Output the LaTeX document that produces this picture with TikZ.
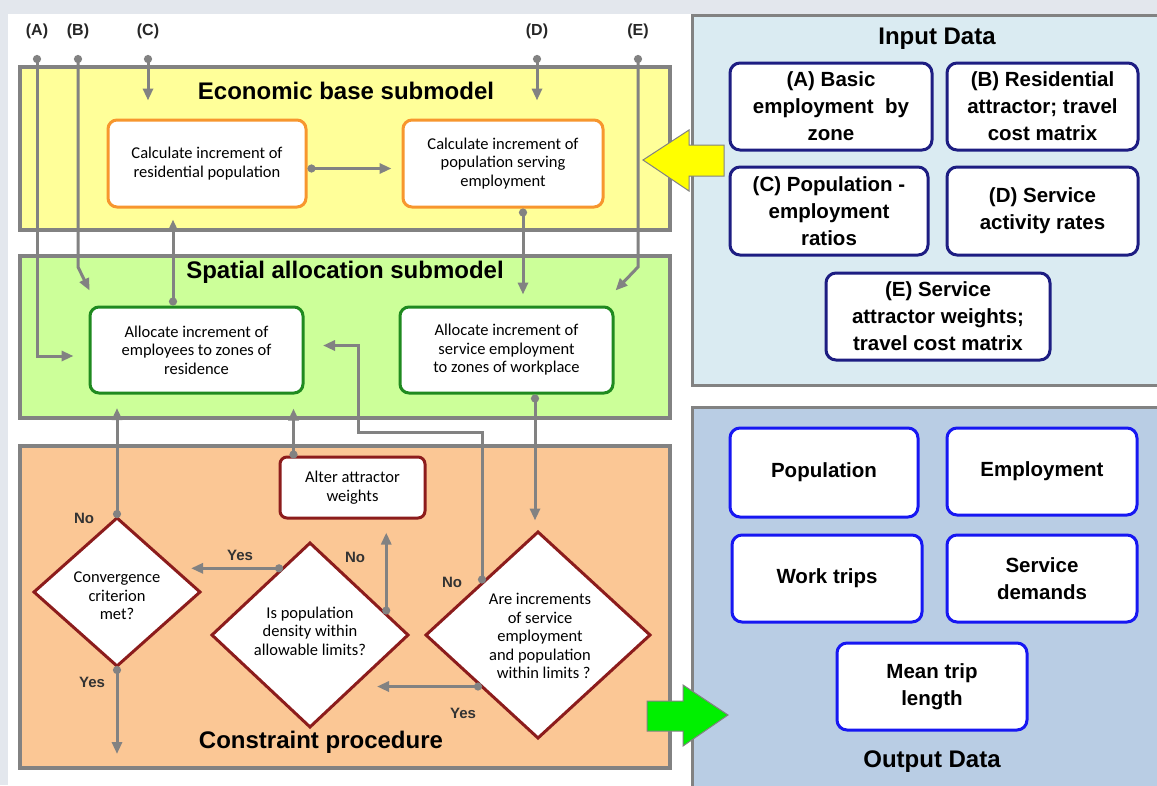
\documentclass[tikz,border=0pt]{standalone}
\usepackage{fontspec}
\setmainfont{Liberation Sans}
\newfontfamily\boxfont{Carlito}
\usetikzlibrary{positioning,shapes.geometric,arrows.meta}
\definecolor{PageGray}{HTML}{E3E7ED}
\definecolor{FrameGray}{HTML}{828282}
\definecolor{EconFill}{HTML}{FFFF99}
\definecolor{SpatFill}{HTML}{CCFF99}
\definecolor{ConsFill}{HTML}{FBC795}
\definecolor{EconLine}{HTML}{F7962E}
\definecolor{SpatLine}{HTML}{1F8A1F}
\definecolor{ConsLine}{HTML}{8C1C1C}
\definecolor{InFill}{HTML}{DAEBF2}
\definecolor{OutFill}{HTML}{B9CDE4}
\definecolor{InLine}{HTML}{1D1D82}
\definecolor{OutLine}{HTML}{1717F2}
\definecolor{InArrow}{HTML}{FFFF00}
\definecolor{OutArrow}{HTML}{00F000}

\begin{document}
\begin{tikzpicture}[x=1pt,y=-1pt,>={Triangle[length=12pt,width=10pt]}]
  \tikzstyle{panel}=[draw=FrameGray,line width=4pt]
  \tikzstyle{paneltitle}=[font=\bfseries\fontsize{24}{27}\selectfont,inner sep=0pt]
  \tikzstyle{stepbox}=[fill=white,line width=3pt,rounded corners=9pt,align=center,
    inner sep=2pt,font=\boxfont\fontsize{16.5}{18.5}\selectfont]
  \tikzstyle{choice}=[diamond,draw=ConsLine,fill=white,line width=3pt,inner sep=0pt,outer sep=0pt]
  \tikzstyle{choicetext}=[align=center,inner sep=0pt,font=\boxfont\fontsize{16.5}{18.5}\selectfont]
  \tikzstyle{databox}=[fill=white,line width=3pt,rounded corners=10pt,align=center,
    inner sep=2pt,font=\bfseries\fontsize{20.5}{27}\selectfont]
  \tikzstyle{feed}=[draw=FrameGray,line width=3pt,{Circle[length=8pt]}->]
  \tikzstyle{answer}=[font=\bfseries\fontsize{15}{17}\selectfont,text=black!80,inner sep=0pt]
  \tikzstyle{toplab}=[font=\bfseries\fontsize{16}{18}\selectfont,text=black!85,inner sep=0pt]

  \useasboundingbox (0,0) rectangle (1157,785);
  \fill[PageGray] (0,0) rectangle (1157,785);
  \fill[white] (8,14) rectangle (1157,785);

  % submodels on the left
  \draw[panel,fill=EconFill] (20,67) rectangle (670,230);
  \draw[panel,fill=SpatFill] (20,256) rectangle (670,418);
  \draw[panel,fill=ConsFill] (20,446) rectangle (670,768);
  \node[paneltitle] (econ) at (346,91) {Economic base submodel};
  \node[paneltitle] (spat) at (345,272) {Spatial allocation submodel};
  \node[paneltitle] (cons) at (321,742) {Constraint procedure};

  % data panels on the right
  \draw[panel,line width=3pt,fill=InFill] (692,15) rectangle (1165,385);
  \draw[panel,line width=3pt,fill=OutFill] (692,407) rectangle (1165,795);
  \node[paneltitle] (indata) at (937,39) {Input Data};
  \node[paneltitle] (outdata) at (932,762) {Output Data};

  % big arrows between panels
  \draw[draw=FrameGray,fill=InArrow,line width=1pt] (643,160) -- (689,130) -- (689,145)
    -- (724,145) -- (724,176) -- (689,176) -- (689,191) -- cycle;
  \draw[draw=FrameGray,fill=OutArrow,line width=1pt] (728,715) -- (683,685) -- (683,701)
    -- (647,701) -- (647,731) -- (683,731) -- (683,746) -- cycle;

  % steps
  \node[stepbox,draw=EconLine,minimum width=198,minimum height=87] (a) at (207,163.5)
    {Calculate increment of\\residential population};
  \node[stepbox,draw=EconLine,minimum width=200,minimum height=87] (b) at (503,163.5)
    {Calculate increment of\\population serving\\employment};
  \node[stepbox,draw=SpatLine,minimum width=213,minimum height=86] (c) at (196.5,350)
    {Allocate increment of\\employees to zones of\\residence};
  \node[stepbox,draw=SpatLine,minimum width=213,minimum height=86] (d) at (506.5,350)
    {Allocate increment of\\service employment\\to zones of workplace};
  \node[stepbox,draw=ConsLine,rounded corners=7pt,minimum width=145,minimum height=61] (e) at (352.5,487.5)
    {Alter attractor\\weights};

  % decisions
  \node[choice,minimum width=166,minimum height=148] (f) at (117,592) {};
  \node[choice,minimum width=196,minimum height=184] (g) at (310,635) {};
  \node[choice,minimum width=224,minimum height=206] (h) at (538,635) {};
  \node[choicetext] (ft) at (117,596) {Convergence\\criterion\\met?};
  \node[choicetext] (gt) at (310,631) {Is population\\density within\\allowable limits?};
  \node[choicetext] (ht) at (540,636) {Are increments\\of service\\employment\\and population\\\ \ within limits ?};

  % input data
  \node[databox,draw=InLine,minimum width=202,minimum height=87] (ia) at (831,106.5)
    {(A) Basic\\employment\ \ by\\zone};
  \node[databox,draw=InLine,minimum width=191,minimum height=87] (ib) at (1042.5,106.5)
    {(B) Residential\\attractor; travel\\cost matrix};
  \node[databox,draw=InLine,minimum width=198,minimum height=88] (ic) at (829,211)
    {(C) Population -\\employment\\ratios};
  \node[databox,draw=InLine,minimum width=191,minimum height=88] (id) at (1042.5,211)
    {(D) Service\\activity rates};
  \node[databox,draw=InLine,minimum width=224,minimum height=87] (ie) at (938,316.5)
    {(E) Service\\attractor weights;\\travel cost matrix};

  % output data
  \node[databox,draw=OutLine,minimum width=188,minimum height=89] (oa) at (824,472.5) {Population};
  \node[databox,draw=OutLine,minimum width=190,minimum height=87] (ob) at (1042,471.5) {Employment};
  \node[databox,draw=OutLine,minimum width=190,minimum height=87] (oc) at (827,578.5) {Work trips};
  \node[databox,draw=OutLine,minimum width=190,minimum height=87] (od) at (1042,578.5) {Service\\demands};
  \node[databox,draw=OutLine,minimum width=190,minimum height=87] (oe) at (932,686.5) {Mean trip\\length};

  % feeds from the input data
  \foreach \lab/\xx in {A/37,B/78,C/148,D/537,E/638} {
    \node[toplab] (l\lab) at (\xx,31) {(\lab)};
    \coordinate (t\lab) at (\xx,55);
  }
  \draw[feed,shorten >=15pt] (tA) |- ([yshift=-6pt]c.west);
  \draw[feed] (tB) -- ++(0,212) -- ([shift={(1,-15)}]c.north west);
  \draw[feed,shorten >=18pt] (tC) -- (tC |- a.north);
  \draw[feed,shorten >=18pt] (tD) -- (tD |- b.north);
  \draw[feed] (tE) -- ++(0,212) -- ([shift={(1,-15)}]d.north east);

  % flow inside the submodels
  \draw[feed,shorten >=10pt] ([yshift=-5pt]a.east) -- ([yshift=-5pt]b.west);
  \draw[feed] ([xshift=20pt]b.south) -- ++(0,86);
  \draw[feed] ([xshift=-23.5pt]c.north) -- ++(0,-86);
  \draw[feed] ([xshift=28.5pt]d.south) -- ++(0,126);
  \draw[feed] (f.north) -- ++(0,-110);
  \draw[feed] ([xshift=15pt,yshift=-3pt]e.north west) -- ++(0,-50);
  \draw[feed] (h.north west) -- ++(0,-151) -| ++(-124,-87) -- ++(-35,0);
  \draw[feed] (g.15) -- ++(0,-82);
  \draw[feed] (g.112) -- ++(-92,0);
  \draw[feed] (h.south west) -- ++(-105,0);
  \draw[feed] (f.south) -- ++(0,88);

  % answers
  \node[answer] (no1) at (84,518) {No};
  \node[answer] (yes1) at (92,682) {Yes};
  \node[answer] (yes2) at (240,555) {Yes};
  \node[answer] (no2) at (355,557) {No};
  \node[answer] (no3) at (452,582) {No};
  \node[answer] (yes3) at (463,713) {Yes};
\end{tikzpicture}
\end{document}
